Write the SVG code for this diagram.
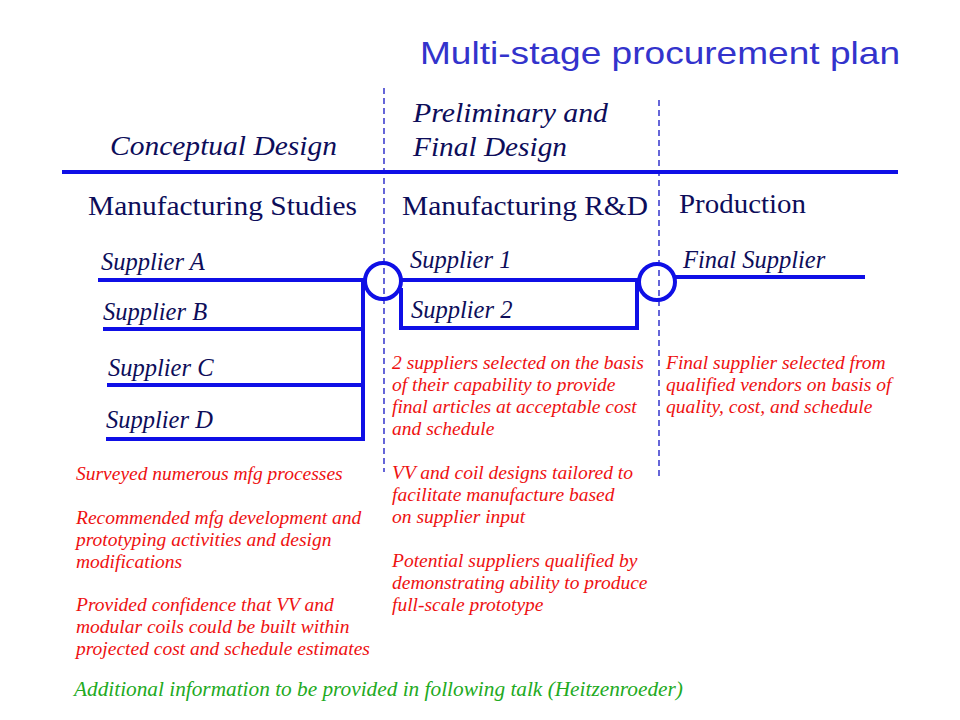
<svg xmlns="http://www.w3.org/2000/svg" width="960" height="720" viewBox="0 0 960 720">
<style>
.title{font-family:"Liberation Sans",Arial,sans-serif;font-size:32px;fill:#3333cc}
.hdr{font-family:"Liberation Serif","Times New Roman",serif;font-size:27px;fill:#0d0d5a}
.it{font-style:italic}
.sup{font-family:"Liberation Serif","Times New Roman",serif;font-style:italic;font-size:24.5px;fill:#0d0d5a}
.note{font-family:"Liberation Serif","Times New Roman",serif;font-style:italic;font-size:19.5px;fill:#ee1111}
.green{font-family:"Liberation Serif","Times New Roman",serif;font-style:italic;font-size:21.3px;fill:#22aa22}
.line{stroke:#0f0fe6;stroke-width:4;fill:none}
.dash{stroke:#3333cc;stroke-width:1.5;stroke-dasharray:6 4;fill:none}
</style>
<rect width="960" height="720" fill="#ffffff"/>
<text class="title" x="420" y="64" textLength="480" lengthAdjust="spacingAndGlyphs">Multi-stage procurement plan</text>

<g id="phases">
<line class="dash" x1="384" y1="88" x2="384" y2="472"/>
<line class="dash" x1="659" y1="100" x2="659" y2="476"/>
<line class="line" x1="62" y1="172" x2="898" y2="172"/>
<text class="hdr it" x="110" y="155" textLength="227" lengthAdjust="spacingAndGlyphs">Conceptual Design</text>
<text class="hdr it" x="413" y="122" textLength="195" lengthAdjust="spacingAndGlyphs">Preliminary and</text>
<text class="hdr it" x="413" y="156" textLength="154" lengthAdjust="spacingAndGlyphs">Final Design</text>
<text class="hdr" x="88" y="215" textLength="269" lengthAdjust="spacingAndGlyphs">Manufacturing Studies</text>
<text class="hdr" x="402" y="215" textLength="246" lengthAdjust="spacingAndGlyphs">Manufacturing R&amp;D</text>
<text class="hdr" x="679" y="213" textLength="127" lengthAdjust="spacingAndGlyphs">Production</text>
</g>

<g id="connectors">
<line class="line" x1="98" y1="280" x2="364" y2="280"/>
<line class="line" x1="103" y1="329" x2="363" y2="329"/>
<line class="line" x1="107" y1="385" x2="363" y2="385"/>
<line class="line" x1="106" y1="439" x2="365" y2="439"/>
<line class="line" x1="363" y1="280" x2="363" y2="441"/>
<polyline class="line" points="401,288 401,328 637,328 637,280"/>
<line class="line" x1="400" y1="280" x2="640" y2="280"/>
<line class="line" x1="675" y1="277" x2="865" y2="277"/>
</g>

<g id="stage1-merge"><circle class="line" cx="383" cy="281" r="18"/></g>
<g id="stage2-merge"><circle class="line" cx="657" cy="282" r="18"/></g>

<g id="supplier-a"><text class="sup" x="101" y="270">Supplier A</text></g>
<g id="supplier-b"><text class="sup" x="103" y="320">Supplier B</text></g>
<g id="supplier-c"><text class="sup" x="108" y="376">Supplier C</text></g>
<g id="supplier-d"><text class="sup" x="106" y="428">Supplier D</text></g>
<g id="supplier-1"><text class="sup" x="410" y="268">Supplier 1</text></g>
<g id="supplier-2"><text class="sup" x="411" y="318">Supplier 2</text></g>
<g id="final-supplier"><text class="sup" x="683" y="268">Final Supplier</text></g>

<g id="notes-studies">
<text class="note" x="76" y="480">Surveyed numerous mfg processes</text>
<text class="note" x="76" y="524">Recommended mfg development and</text>
<text class="note" x="76" y="546">prototyping activities and design</text>
<text class="note" x="76" y="568">modifications</text>
<text class="note" x="76" y="611">Provided confidence that VV and</text>
<text class="note" x="76" y="633">modular coils could be built within</text>
<text class="note" x="76" y="655">projected cost and schedule estimates</text>
</g>
<g id="notes-rd">
<text class="note" x="392" y="369">2 suppliers selected on the basis</text>
<text class="note" x="392" y="391">of their capability to provide</text>
<text class="note" x="392" y="413">final articles at acceptable cost</text>
<text class="note" x="392" y="435">and schedule</text>
<text class="note" x="392" y="479">VV and coil designs tailored to</text>
<text class="note" x="392" y="501">facilitate manufacture based</text>
<text class="note" x="392" y="523">on supplier input</text>
<text class="note" x="392" y="567">Potential suppliers qualified by</text>
<text class="note" x="392" y="589">demonstrating ability to produce</text>
<text class="note" x="392" y="611">full-scale prototype</text>
</g>
<g id="notes-production">
<text class="note" x="666" y="369">Final supplier selected from</text>
<text class="note" x="666" y="391">qualified vendors on basis of</text>
<text class="note" x="666" y="413">quality, cost, and schedule</text>
</g>
<text class="green" x="74" y="696">Additional information to be provided in following talk (Heitzenroeder)</text>
</svg>
